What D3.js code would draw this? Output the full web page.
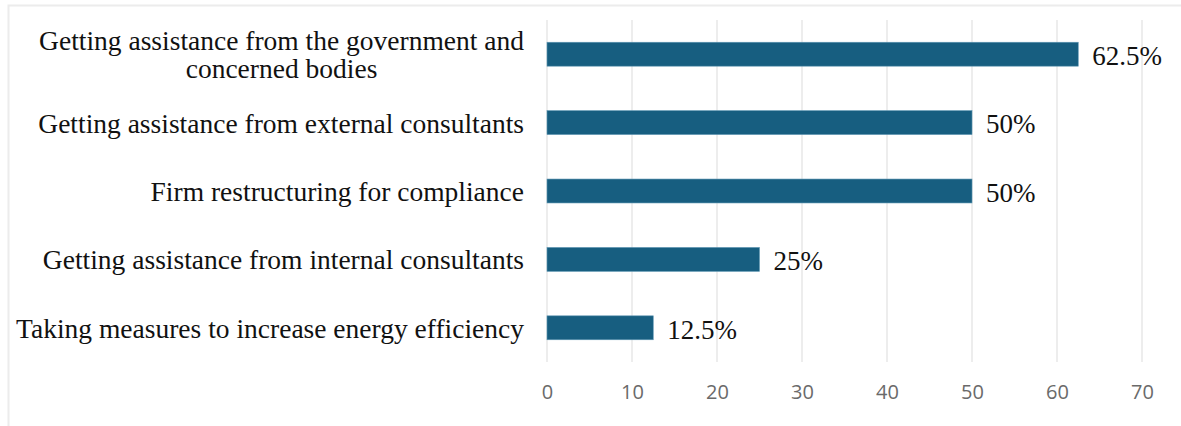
<!DOCTYPE html>
<html>
<head>
<meta charset="utf-8">
<script src="https://cdn.jsdelivr.net/npm/d3@7"></script>
<style>
  body { margin: 0; background: #fff; }
  svg { display: block; }
</style>
</head>
<body>
<div id="chart"></div>
<script>
var categories = [
  ["Getting assistance from the government and", "concerned bodies"],
  ["Getting assistance from external consultants"],
  ["Firm restructuring for compliance"],
  ["Getting assistance from internal consultants"],
  ["Taking measures to increase energy efficiency"]
];
var values = [62.5, 50, 50, 25, 12.5];
var valueLabels = ["62.5%", "50%", "50%", "25%", "12.5%"];
var xTicks = [0, 10, 20, 30, 40, 50, 60, 70];

var width = 1181, height = 426;
var plotLeft = 547, plotRight = 1142, plotTop = 20, plotBottom = 362;
var labelRight = 524;

var svg = d3.select("#chart").append("svg")
  .attr("width", width)
  .attr("height", height);

// light frame
svg.append("path")
  .attr("d", "M8.5," + height + "V5.5H" + width)
  .attr("fill", "none")
  .attr("stroke", "#ececec")
  .attr("stroke-width", 2);

var x = d3.scaleLinear().domain([0, 70]).range([plotLeft, plotRight]);
var y = d3.scaleBand().domain(d3.range(categories.length)).range([plotTop, plotBottom]).paddingInner(0.65).paddingOuter(0.325);

// gridlines
svg.append("g").selectAll("line")
  .data(xTicks)
  .enter().append("line")
    .attr("x1", function(d) { return x(d); })
    .attr("x2", function(d) { return x(d); })
    .attr("y1", plotTop)
    .attr("y2", plotBottom)
    .attr("stroke", "#e3e3e3")
    .attr("stroke-width", 1.3);

// bars
svg.append("g").selectAll("rect")
  .data(values)
  .enter().append("rect")
    .attr("x", x(0))
    .attr("y", function(d, i) { return y(i); })
    .attr("width", function(d) { return x(d) - x(0); })
    .attr("height", y.bandwidth())
    .attr("fill", "#175e80")
    .attr("stroke", "#5f97b3")
    .attr("stroke-width", 0.6);

// value labels
svg.append("g").selectAll("text")
  .data(values)
  .enter().append("text")
    .attr("x", function(d) { return x(d) + 14; })
    .attr("y", function(d, i) { return y(i) + y.bandwidth() / 2 + 1; })
    .attr("dy", "0.36em")
    .style("font-family", "'Liberation Serif', 'Times New Roman', serif")
    .style("font-size", "27px")
    .style("fill", "#111")
    .text(function(d, i) { return valueLabels[i]; });

// category labels
var cat = svg.append("g").selectAll("text")
  .data(categories)
  .enter().append("text")
    .attr("y", function(d, i) { return y(i) + y.bandwidth() / 2 - (d.length - 1) * 14; })
    .style("font-family", "'Liberation Serif', 'Times New Roman', serif")
    .style("font-size", "27.5px")
    .style("fill", "#111");

cat.selectAll("tspan")
  .data(function(d) { return d; })
  .enter().append("tspan")
    .attr("dy", function(d, i) { return i === 0 ? "0.36em" : "1.02em"; })
    .text(function(d) { return d; });

// right-align single lines, centre multi-line labels under the widest line
cat.each(function(d) {
  var t = d3.select(this);
  var spans = t.selectAll("tspan");
  var widest = d3.max(spans.nodes(), function(n) { return n.getComputedTextLength(); });
  if (d.length > 1) {
    t.attr("text-anchor", "middle");
    spans.attr("x", labelRight - widest / 2);
  } else {
    t.attr("text-anchor", "end");
    spans.attr("x", labelRight);
  }
});

// x axis tick labels
var xAxis = d3.axisBottom(x).tickValues(xTicks).tickSize(0).tickPadding(0);
var gx = svg.append("g")
  .attr("transform", "translate(0," + (plotBottom + 23) + ")")
  .call(xAxis);
gx.select(".domain").remove();
gx.selectAll("text")
  .style("font-family", "'Open Sans', 'Noto Sans', sans-serif")
  .style("font-size", "20px")
  .style("fill", "#6a6a6a")
  .attr("dy", "0.71em");
</script>
</body>
</html>
